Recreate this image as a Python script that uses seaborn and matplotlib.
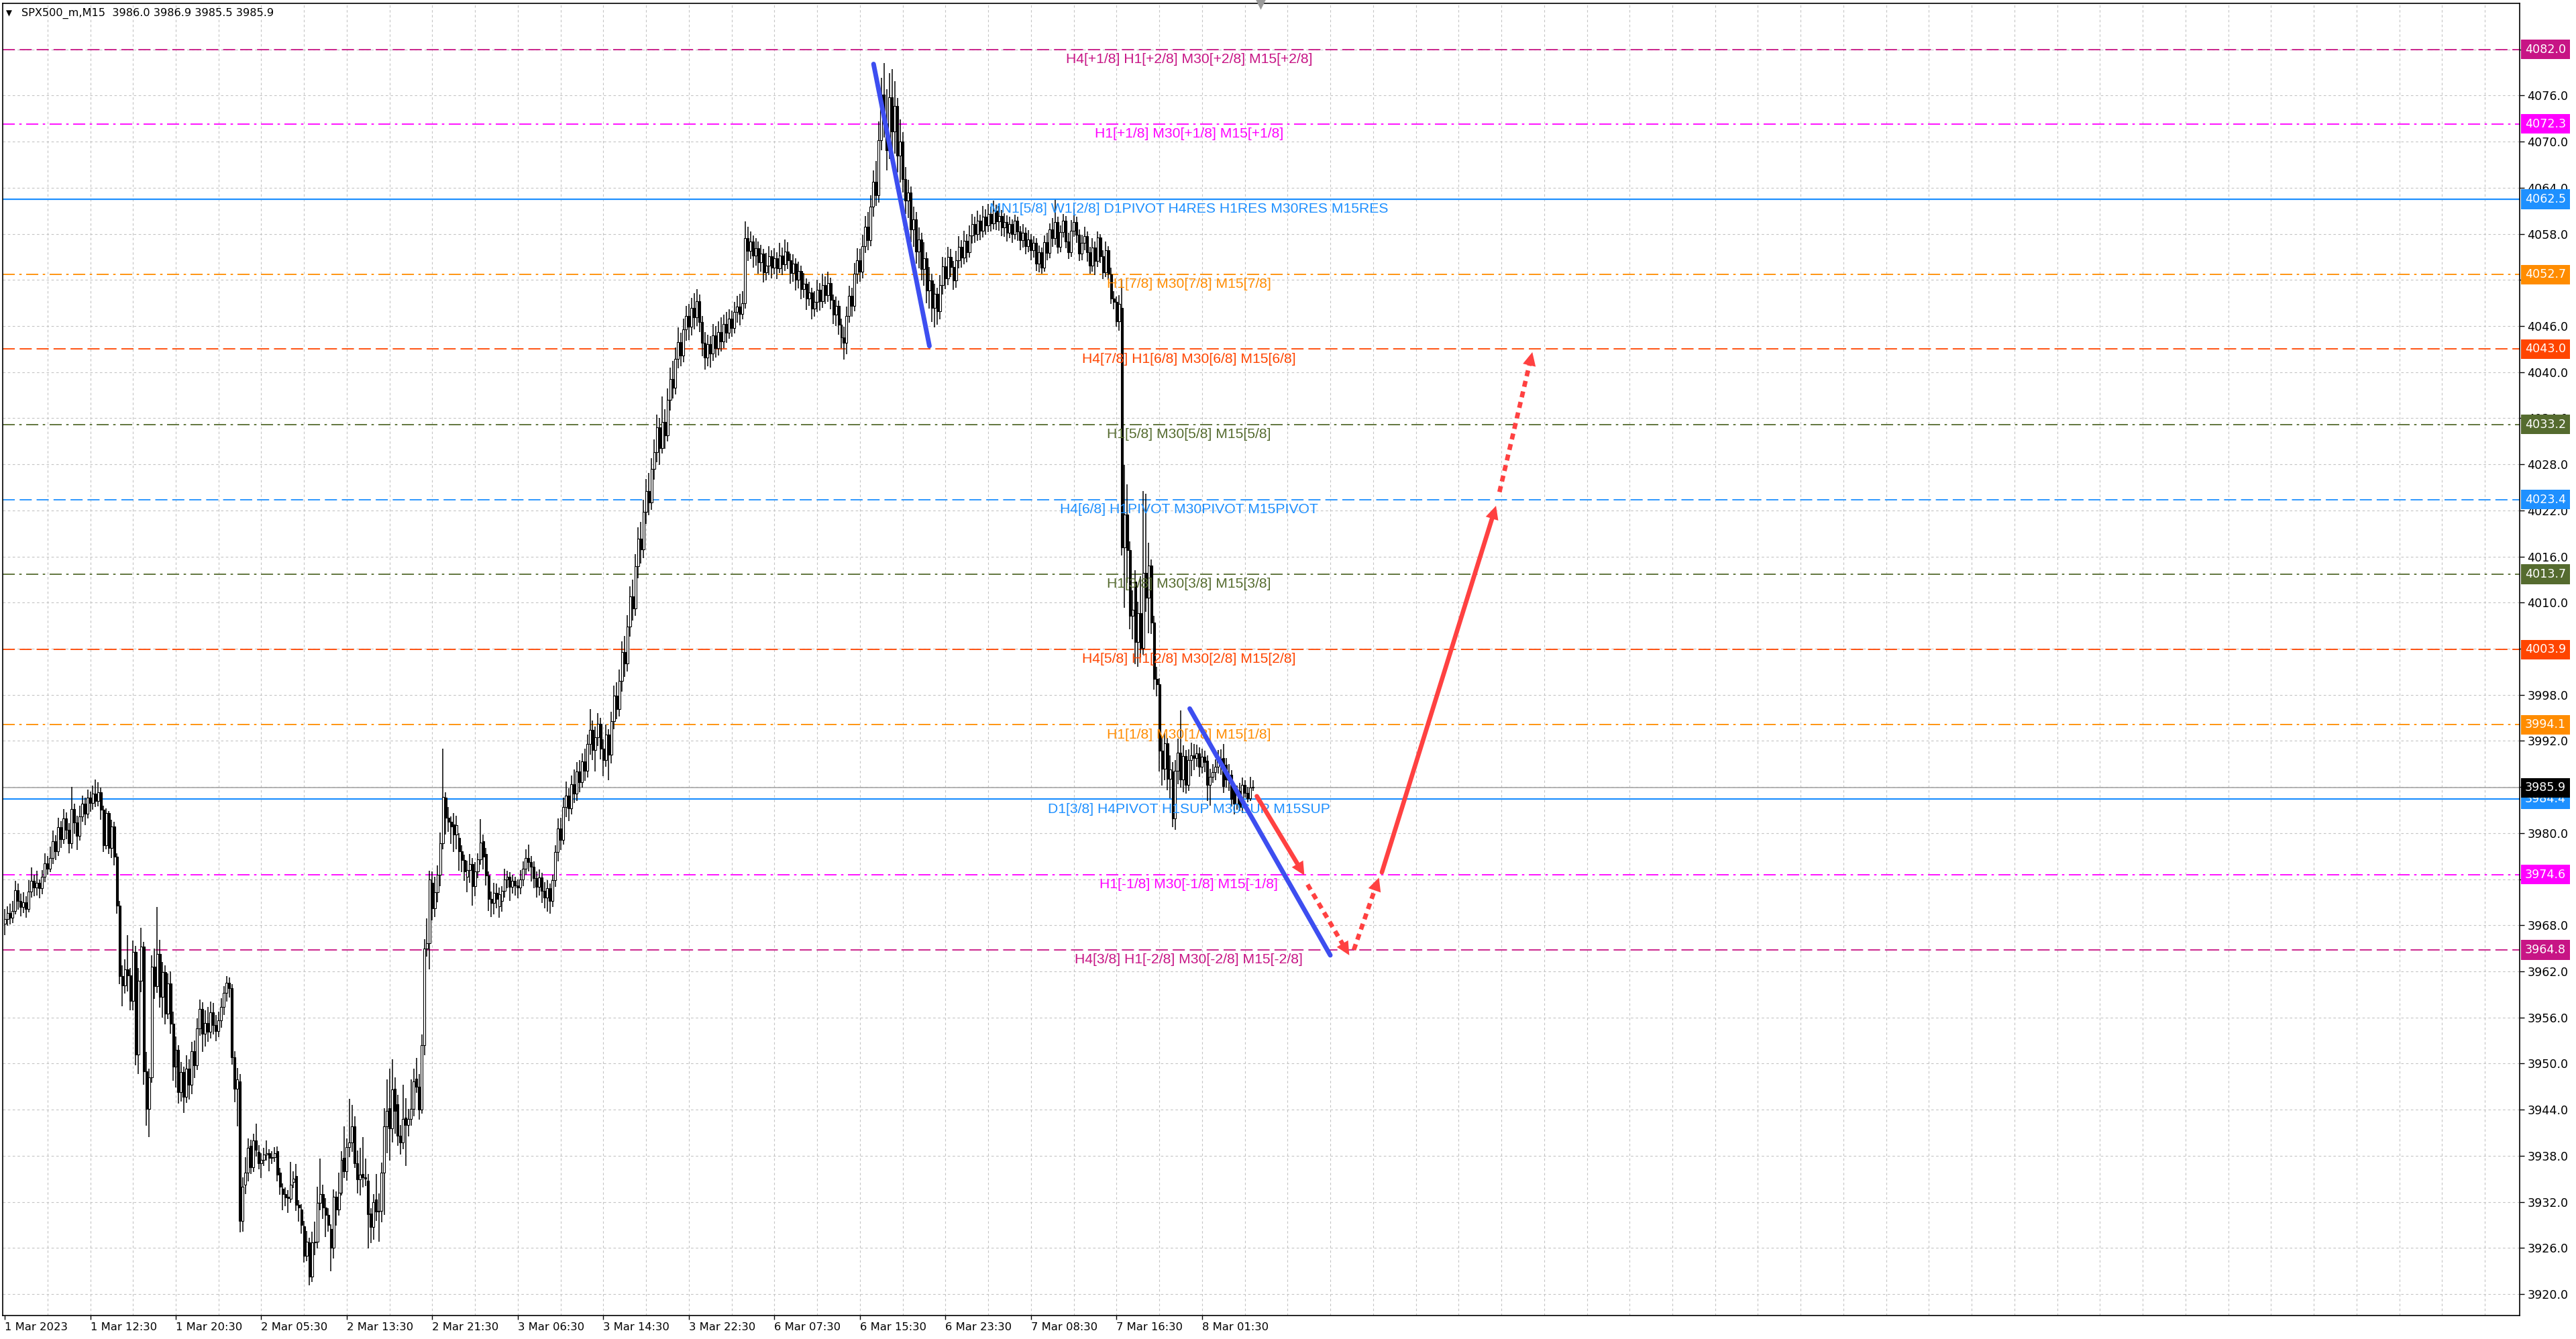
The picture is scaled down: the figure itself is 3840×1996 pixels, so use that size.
import numpy as np
import matplotlib
matplotlib.use("Agg")
import matplotlib.pyplot as plt
import matplotlib.transforms as mtransforms
import seaborn as sns

# SPX500_m M15 candles, 1 Mar 2023 -> 8 Mar 2023
opens = [
    3968.2, 3968.8, 3969.6, 3969.0, 3969.9, 3972.6, 3971.2, 3970.4, 3971.0, 3970.1, 3972.4, 3973.8, 3972.9, 3973.5, 3972.8, 3974.3,
    3976.1, 3975.4, 3976.8, 3978.9, 3977.6, 3980.8, 3979.2, 3981.9, 3980.4, 3978.7, 3983.1, 3981.4, 3979.6, 3982.2, 3983.8, 3982.5,
    3984.6, 3983.9, 3985.1, 3984.2, 3985.3, 3983.0, 3978.4, 3982.6, 3978.1, 3980.9, 3976.9, 3970.6, 3961.4, 3960.2, 3962.3, 3961.5,
    3958.2, 3964.5, 3951.2, 3960.8, 3965.2, 3949.0, 3944.1, 3948.2, 3962.6, 3960.1, 3964.3, 3958.7, 3961.9, 3956.5, 3960.4, 3955.2,
    3949.6, 3951.8, 3946.3, 3948.9, 3945.7, 3949.3, 3947.2, 3951.6, 3949.8, 3954.6, 3957.1, 3953.9, 3955.3, 3954.1, 3956.7, 3955.0,
    3954.2, 3955.6, 3957.4, 3959.2, 3960.5, 3959.8, 3950.8, 3946.7, 3947.7, 3929.5, 3934.2, 3935.8, 3939.3, 3936.5, 3940.0, 3938.5,
    3937.0, 3937.5, 3938.2, 3938.3, 3937.7, 3937.8, 3938.6, 3935.8, 3933.7, 3933.0, 3932.6, 3932.4, 3934.6, 3935.4, 3931.6, 3931.0,
    3928.8, 3925.0, 3926.7, 3922.3, 3926.7, 3926.8, 3931.9, 3933.0, 3931.3, 3930.3, 3928.5, 3926.0, 3932.7, 3931.0, 3933.2, 3937.7,
    3936.0, 3939.1, 3939.7, 3941.8, 3937.0, 3934.9, 3935.6, 3935.2, 3934.8, 3930.5, 3928.7, 3932.3, 3930.7, 3930.8, 3935.8, 3941.8,
    3944.2, 3941.6, 3946.7, 3944.7, 3940.6, 3939.7, 3943.0, 3942.0, 3942.8, 3944.1, 3948.0, 3947.0, 3944.0, 3952.4, 3965.0, 3965.7,
    3973.5, 3970.2, 3972.3, 3974.6, 3978.7, 3984.6, 3982.0, 3981.5, 3981.1, 3979.8, 3979.4, 3977.6, 3976.5, 3974.3, 3975.2, 3976.0,
    3973.1, 3975.0, 3976.6, 3978.9, 3977.3, 3974.5, 3971.4, 3970.9, 3972.2, 3970.5, 3971.2, 3972.5, 3974.0, 3974.3, 3973.0, 3973.8,
    3973.2, 3972.9, 3974.0, 3975.4, 3976.8, 3976.2, 3975.6, 3974.1, 3973.0, 3974.2, 3972.5, 3971.6, 3972.8, 3971.2, 3973.9, 3977.5,
    3980.6, 3979.1, 3983.4, 3984.9, 3983.2, 3986.4, 3985.1, 3988.0, 3986.6, 3989.3, 3988.1, 3991.6, 3993.4, 3990.8, 3992.5, 3994.2,
    3991.0, 3989.5, 3992.8, 3990.2, 3994.6, 3997.9, 3996.1, 3999.8, 4003.6, 4002.1, 4006.9, 4010.8, 4009.2, 4014.7, 4018.3, 4016.9,
    4021.8, 4024.5, 4023.0, 4027.4, 4029.6, 4032.8, 4030.1, 4033.5, 4031.8, 4036.4, 4039.1, 4038.0, 4041.7, 4043.9, 4042.2, 4045.6,
    4047.3, 4045.9, 4048.4, 4047.1, 4049.2, 4046.5, 4043.8, 4041.9, 4043.6, 4042.4, 4044.8, 4043.1, 4045.2, 4044.0, 4046.3, 4045.1,
    4047.0, 4045.7, 4047.8, 4048.5, 4047.6, 4049.0, 4057.4, 4055.8, 4057.0, 4055.2, 4056.1, 4054.3, 4055.4, 4053.0, 4053.9, 4055.1,
    4053.6, 4054.8, 4053.5, 4055.2, 4054.0, 4055.7, 4054.6, 4052.9, 4054.1, 4052.0, 4053.2, 4050.8, 4051.5, 4049.6, 4050.4, 4048.3,
    4049.1, 4050.7, 4049.2, 4051.3, 4050.0, 4051.6, 4049.4, 4047.5, 4048.6, 4046.2, 4044.5, 4043.8, 4047.3, 4049.9, 4048.6, 4052.8,
    4054.6, 4053.1, 4056.4, 4058.9, 4057.2, 4061.5, 4064.8, 4063.0, 4070.2, 4076.1, 4072.4, 4068.9, 4075.8, 4071.3, 4074.6, 4068.2,
    4070.0, 4065.1, 4062.3, 4063.4, 4058.6, 4059.9, 4055.7, 4057.3, 4053.4, 4054.8, 4050.6, 4051.9, 4048.4, 4050.2, 4047.9, 4051.3,
    4053.8, 4052.2, 4055.0, 4053.7, 4051.9, 4054.6, 4056.3, 4054.9, 4057.1, 4055.6, 4057.8, 4059.3, 4058.0, 4059.7, 4058.4, 4060.2,
    4059.1, 4060.6, 4059.4, 4061.0, 4059.6, 4060.3, 4058.8, 4059.5, 4058.1, 4059.3, 4058.0, 4059.7, 4058.3, 4057.2, 4058.1, 4056.4,
    4057.3, 4055.9, 4056.8, 4054.1, 4055.6, 4053.6, 4056.9, 4055.5, 4058.6, 4057.4, 4059.5, 4056.3, 4058.2, 4059.7, 4057.0, 4055.6,
    4058.4, 4059.5, 4057.9, 4055.4, 4056.8, 4057.7, 4055.6, 4053.9, 4056.2, 4054.5, 4057.5, 4055.1, 4053.0, 4055.9, 4052.7, 4049.6,
    4049.1, 4046.6, 4048.4, 4017.2, 4021.5, 4016.8, 4008.3, 4012.7, 4004.9, 4008.6, 4004.1, 4013.9, 4010.6, 4014.8, 4007.4, 4000.1,
    3999.4, 3990.7, 3988.4, 3991.7, 3987.1, 3988.0, 3981.9, 3988.1, 3990.5, 3987.0, 3990.0, 3986.3, 3989.5, 3990.1, 3989.8, 3990.4,
    3988.6, 3989.9, 3989.4, 3986.3, 3987.3, 3987.9, 3988.6, 3989.7, 3989.8, 3988.9, 3987.0, 3987.6, 3985.7, 3983.8, 3985.5, 3983.4,
    3986.3, 3985.2, 3984.5, 3986.0,
]
highs = [
    3970.1, 3970.5, 3970.8, 3971.2, 3973.8, 3973.4, 3972.1, 3972.3, 3971.8, 3973.9, 3975.5, 3974.6, 3975.1, 3974.0, 3975.2, 3977.4,
    3977.0, 3978.2, 3980.3, 3979.7, 3982.0, 3981.6, 3983.1, 3982.7, 3981.3, 3986.0, 3983.8, 3982.3, 3983.6, 3984.9, 3984.6, 3985.7,
    3985.4, 3986.2, 3987.0, 3986.6, 3985.9, 3983.6, 3983.2, 3982.9, 3981.7, 3981.5, 3977.4, 3971.2, 3962.8, 3963.6, 3966.7, 3962.4,
    3966.0, 3965.3, 3962.4, 3967.7, 3965.8, 3951.5, 3949.3, 3964.1, 3965.0, 3970.4, 3966.1, 3963.2, 3962.8, 3961.7, 3962.0, 3956.8,
    3953.5, 3952.4, 3950.2, 3949.6, 3951.1, 3950.6, 3952.8, 3953.0, 3955.9, 3958.3, 3958.0, 3956.9, 3957.4, 3958.1, 3957.9, 3956.3,
    3956.8, 3958.5, 3960.1, 3961.4, 3961.2, 3960.3, 3951.6, 3949.4, 3948.6, 3935.2, 3937.8, 3940.3, 3940.1, 3940.9, 3942.2, 3939.4,
    3938.3, 3939.0, 3940.0, 3938.9, 3938.6, 3939.1, 3939.2, 3936.4, 3934.4, 3933.9, 3933.5, 3937.2, 3936.0, 3936.9, 3932.2, 3931.7,
    3929.5, 3928.2, 3927.3, 3928.1, 3929.4, 3934.0, 3937.6, 3934.2, 3932.5, 3931.2, 3929.1, 3933.6, 3933.4, 3935.8, 3938.6, 3941.8,
    3940.3, 3945.4, 3944.6, 3943.1, 3938.7, 3939.0, 3940.4, 3937.6, 3935.6, 3931.2, 3933.0, 3935.6, 3933.1, 3937.1, 3944.2, 3947.9,
    3949.3, 3950.6, 3948.2, 3945.9, 3942.0, 3947.2, 3945.5, 3944.1, 3947.9, 3949.3, 3950.7, 3948.6, 3953.8, 3966.2, 3968.9, 3975.1,
    3975.0, 3974.3, 3975.8, 3980.1, 3991.0, 3985.3, 3983.4, 3982.2, 3982.6, 3982.3, 3980.0, 3978.4, 3977.2, 3976.4, 3977.3, 3976.8,
    3976.2, 3977.4, 3981.8, 3979.8, 3978.1, 3975.0, 3972.4, 3973.5, 3973.4, 3972.9, 3973.1, 3975.4, 3975.1, 3974.9, 3974.6, 3974.3,
    3974.0, 3975.2, 3976.3, 3977.9, 3978.5, 3977.0, 3976.3, 3975.0, 3975.3, 3974.8, 3973.6, 3973.9, 3973.4, 3974.6, 3978.4, 3981.9,
    3982.0, 3984.6, 3986.7, 3985.8, 3987.5, 3988.3, 3989.2, 3989.5, 3990.4, 3991.0, 3992.8, 3996.1, 3994.7, 3993.9, 3995.6, 3995.0,
    3992.2, 3994.1, 3993.5, 3995.8, 3999.2, 3999.6, 4001.3, 4005.0, 4005.7, 4008.4, 4012.1, 4013.0, 4016.3, 4019.8, 4020.5, 4023.4,
    4026.1, 4026.9, 4028.8, 4031.2, 4034.5, 4034.0, 4036.8, 4035.2, 4037.9, 4040.6, 4041.5, 4043.2, 4045.8, 4045.1, 4047.0, 4048.6,
    4048.9, 4049.7, 4050.3, 4050.8, 4050.1, 4047.3, 4045.2, 4044.9, 4044.7, 4046.3, 4046.0, 4046.6, 4047.1, 4047.5, 4047.8, 4048.2,
    4048.0, 4049.1, 4049.9, 4050.2, 4050.5, 4059.6, 4058.9, 4058.3, 4057.8, 4057.4, 4057.0, 4056.6, 4056.0, 4055.5, 4056.4, 4055.9,
    4056.1, 4055.6, 4056.8, 4056.2, 4057.3, 4056.9, 4055.4, 4055.3, 4054.8, 4054.4, 4053.9, 4052.9, 4052.2, 4051.8, 4051.0, 4050.5,
    4052.0, 4051.6, 4052.8, 4052.5, 4053.1, 4052.3, 4050.1, 4049.8, 4049.3, 4047.0, 4045.9, 4048.5, 4051.2, 4051.0, 4054.2, 4056.1,
    4056.0, 4057.9, 4060.3, 4060.8, 4063.0, 4066.3, 4067.5, 4072.6, 4078.3, 4080.2, 4076.8, 4078.9, 4079.4, 4077.9, 4075.7, 4072.9,
    4071.2, 4066.7, 4065.0, 4064.2, 4061.5, 4060.8, 4058.8, 4058.1, 4056.9, 4055.6, 4053.7, 4052.8, 4051.5, 4051.0, 4052.6, 4055.0,
    4054.9, 4056.3, 4056.0, 4054.5, 4055.8, 4057.7, 4057.2, 4058.4, 4058.0, 4059.1, 4060.6, 4060.2, 4061.0, 4060.5, 4061.6, 4061.2,
    4061.9, 4061.5, 4062.3, 4061.8, 4061.6, 4061.1, 4060.7, 4060.4, 4060.2, 4059.9, 4060.5, 4060.2, 4059.0, 4059.3, 4058.8, 4058.5,
    4058.0, 4057.7, 4057.4, 4056.5, 4056.2, 4057.8, 4058.1, 4059.4, 4060.1, 4062.4, 4060.2, 4059.1, 4060.6, 4060.3, 4058.1, 4059.8,
    4061.3, 4060.2, 4058.6, 4057.9, 4058.9, 4058.3, 4056.3, 4057.4, 4057.0, 4058.3, 4058.0, 4055.9, 4057.0, 4056.4, 4053.6, 4050.5,
    4049.8, 4050.0, 4052.0, 4027.9, 4025.4, 4018.0, 4011.6, 4014.2, 4010.1, 4013.4, 4024.5, 4024.2, 4017.8, 4015.6, 4008.3, 4001.6,
    4000.2, 3992.5, 3993.0, 3992.4, 3990.1, 3989.2, 3989.5, 3992.3, 3996.0, 3991.4, 3990.8, 3990.9, 3991.8, 3991.6, 3991.5, 3991.2,
    3991.0, 3990.7, 3990.1, 3988.4, 3989.0, 3989.6, 3990.8, 3990.9, 3991.6, 3989.8, 3989.0, 3988.2, 3986.4, 3986.2, 3986.5, 3987.2,
    3986.9, 3986.0, 3987.3, 3986.9,
]
lows = [
    3966.7, 3967.9, 3968.1, 3968.3, 3969.4, 3970.0, 3969.2, 3969.6, 3969.0, 3969.7, 3971.6, 3971.8, 3971.9, 3971.5, 3972.0, 3973.6,
    3974.6, 3974.9, 3976.0, 3976.5, 3977.0, 3978.1, 3978.6, 3979.2, 3977.4, 3978.0, 3979.9, 3977.8, 3979.0, 3981.5, 3981.0, 3981.9,
    3982.8, 3983.0, 3983.4, 3983.5, 3981.7, 3977.5, 3977.9, 3977.3, 3976.8, 3975.8, 3969.5, 3960.3, 3957.5, 3959.1, 3959.4, 3956.9,
    3956.9, 3949.8, 3948.6, 3959.3, 3947.2, 3941.9, 3940.4, 3947.5, 3958.4, 3959.2, 3957.3, 3956.0, 3955.1, 3955.8, 3953.9, 3947.8,
    3946.9, 3944.8, 3945.1, 3943.6, 3944.9, 3945.3, 3946.0, 3948.1, 3949.2, 3953.6, 3951.5, 3952.2, 3952.8, 3953.3, 3953.8, 3952.9,
    3953.4, 3954.7, 3956.3, 3958.1, 3958.6, 3949.9, 3945.0, 3941.8, 3928.0, 3928.1, 3933.0, 3934.7, 3935.6, 3935.9, 3937.9, 3936.2,
    3935.1, 3936.7, 3937.4, 3936.0, 3936.9, 3937.2, 3934.7, 3932.9, 3930.9, 3931.4, 3930.6, 3931.9, 3933.8, 3930.8, 3929.4, 3927.9,
    3924.1, 3924.3, 3921.1, 3921.6, 3925.1, 3925.9, 3930.9, 3929.8, 3927.4, 3928.1, 3923.0, 3924.6, 3928.9, 3930.2, 3932.8, 3935.1,
    3934.8, 3937.8, 3938.5, 3936.4, 3933.1, 3932.8, 3933.9, 3934.1, 3925.9, 3926.6, 3927.1, 3929.5, 3926.8, 3929.3, 3930.3, 3938.3,
    3937.4, 3939.7, 3940.9, 3939.3, 3938.2, 3938.9, 3936.7, 3940.5, 3941.9, 3943.1, 3946.2, 3942.7, 3943.5, 3951.1, 3963.9, 3962.3,
    3968.6, 3969.1, 3971.0, 3973.1, 3977.9, 3979.8, 3980.2, 3978.6, 3977.5, 3977.9, 3975.1, 3974.9, 3973.8, 3972.3, 3973.5, 3970.6,
    3971.8, 3974.1, 3975.9, 3975.3, 3973.2, 3969.9, 3969.1, 3969.4, 3970.2, 3969.0, 3969.8, 3971.6, 3972.8, 3971.2, 3972.1, 3971.9,
    3971.5, 3972.0, 3973.1, 3974.6, 3975.0, 3973.7, 3972.8, 3971.6, 3971.9, 3970.9, 3970.2, 3969.8, 3969.5, 3970.4, 3973.0, 3976.3,
    3977.8, 3978.5, 3982.1, 3981.6, 3982.4, 3983.9, 3984.2, 3985.3, 3985.9, 3986.8, 3987.2, 3990.2, 3989.5, 3988.0, 3991.3, 3989.6,
    3987.4, 3988.6, 3986.9, 3989.1, 3993.5, 3994.8, 3995.2, 3998.4, 4000.3, 4001.0, 4005.6, 4007.7, 4008.3, 4013.2, 4015.1, 4015.8,
    4020.2, 4021.4, 4022.1, 4026.0, 4028.3, 4027.9, 4029.4, 4030.0, 4031.0, 4035.0, 4036.6, 4037.1, 4040.5, 4040.8, 4041.3, 4044.1,
    4044.2, 4044.8, 4045.6, 4046.0, 4045.2, 4042.1, 4040.3, 4040.8, 4040.6, 4041.5, 4041.9, 4042.2, 4042.7, 4043.1, 4043.8, 4044.3,
    4044.6, 4045.0, 4046.4, 4046.1, 4046.9, 4048.3, 4054.5, 4054.7, 4053.6, 4053.9, 4052.8, 4053.1, 4051.7, 4051.9, 4052.6, 4052.2,
    4052.7, 4052.1, 4052.9, 4052.6, 4053.2, 4053.4, 4051.5, 4051.8, 4050.6, 4050.9, 4049.5, 4049.7, 4048.1, 4048.6, 4046.9, 4047.2,
    4047.8, 4048.0, 4048.4, 4048.9, 4049.1, 4048.2, 4046.3, 4046.0, 4044.9, 4043.1, 4041.6, 4042.3, 4046.4, 4047.2, 4047.9, 4051.5,
    4051.8, 4052.2, 4055.5, 4055.9, 4056.4, 4060.2, 4061.6, 4062.1, 4068.9, 4070.5, 4066.3, 4067.7, 4069.0, 4068.4, 4066.0, 4064.7,
    4063.4, 4060.6, 4060.1, 4056.9, 4056.3, 4054.1, 4053.5, 4051.9, 4051.2, 4049.0, 4048.3, 4046.5, 4045.8, 4046.2, 4046.9, 4050.1,
    4050.8, 4051.3, 4052.4, 4050.7, 4051.0, 4053.5, 4053.6, 4054.0, 4054.3, 4054.9, 4056.7, 4056.8, 4057.1, 4057.2, 4057.5, 4057.9,
    4058.2, 4058.3, 4058.6, 4058.5, 4058.4, 4057.7, 4057.6, 4057.0, 4057.4, 4056.8, 4057.3, 4057.1, 4055.9, 4056.2, 4055.3, 4055.6,
    4054.6, 4054.9, 4053.2, 4053.0, 4052.8, 4053.1, 4054.6, 4054.8, 4056.3, 4056.6, 4055.4, 4055.6, 4057.5, 4056.1, 4054.7, 4055.0,
    4057.6, 4056.8, 4054.5, 4054.6, 4055.9, 4054.4, 4052.8, 4053.1, 4052.6, 4053.7, 4054.2, 4052.1, 4052.4, 4052.0, 4048.9, 4048.2,
    4045.9, 4045.4, 4016.1, 4009.3, 4012.6, 4006.5, 4005.2, 4002.0, 4001.6, 4002.9, 4003.2, 4008.8, 4006.0, 4005.9, 3998.7, 3997.8,
    3988.0, 3986.2, 3986.9, 3985.6, 3984.5, 3980.8, 3980.4, 3986.4, 3985.9, 3985.3, 3985.1, 3985.5, 3987.4, 3988.2, 3988.6, 3987.3,
    3987.8, 3987.9, 3984.2, 3983.6, 3986.5, 3986.9, 3987.8, 3987.6, 3985.2, 3985.9, 3985.5, 3983.5, 3982.4, 3983.0, 3982.9, 3982.6,
    3984.6, 3984.0, 3984.2, 3985.5,
]
closes = [
    3968.8, 3969.6, 3969.0, 3969.9, 3972.6, 3971.2, 3970.4, 3971.0, 3970.1, 3972.4, 3973.8, 3972.9, 3973.5, 3972.8, 3974.3, 3976.1,
    3975.4, 3976.8, 3978.9, 3977.6, 3980.8, 3979.2, 3981.9, 3980.4, 3978.7, 3983.1, 3981.4, 3979.6, 3982.2, 3983.8, 3982.5, 3984.6,
    3983.9, 3985.1, 3984.2, 3985.3, 3983.0, 3978.4, 3982.6, 3978.1, 3980.9, 3976.9, 3970.6, 3961.4, 3960.2, 3962.3, 3961.5, 3958.2,
    3964.5, 3951.2, 3960.8, 3965.2, 3949.0, 3944.1, 3948.2, 3962.6, 3960.1, 3964.3, 3958.7, 3961.9, 3956.5, 3960.4, 3955.2, 3949.6,
    3951.8, 3946.3, 3948.9, 3945.7, 3949.3, 3947.2, 3951.6, 3949.8, 3954.6, 3957.1, 3953.9, 3955.3, 3954.1, 3956.7, 3955.0, 3954.2,
    3955.6, 3957.4, 3959.2, 3960.5, 3959.8, 3950.8, 3946.7, 3947.9, 3929.5, 3934.0, 3935.8, 3939.0, 3936.5, 3940.0, 3938.8, 3937.0,
    3937.5, 3938.2, 3938.3, 3937.7, 3937.8, 3938.3, 3935.5, 3934.0, 3933.0, 3932.6, 3932.5, 3934.2, 3935.0, 3931.6, 3931.3, 3929.0,
    3925.0, 3926.8, 3922.3, 3926.7, 3926.8, 3931.9, 3933.0, 3931.3, 3930.3, 3929.0, 3926.0, 3932.7, 3931.0, 3933.2, 3937.5, 3936.0,
    3939.1, 3939.7, 3941.8, 3937.0, 3934.9, 3935.5, 3935.2, 3935.0, 3930.4, 3928.7, 3932.0, 3930.7, 3930.8, 3935.8, 3941.8, 3943.8,
    3941.6, 3946.6, 3943.8, 3940.6, 3939.7, 3942.8, 3942.0, 3942.8, 3944.1, 3947.7, 3947.0, 3944.0, 3952.4, 3965.0, 3965.7, 3974.0,
    3970.2, 3972.3, 3974.6, 3978.7, 3984.7, 3982.0, 3981.5, 3980.9, 3979.8, 3981.0, 3977.6, 3976.5, 3975.0, 3975.2, 3976.0, 3973.1,
    3975.0, 3976.6, 3978.8, 3976.9, 3974.5, 3971.4, 3970.9, 3972.2, 3971.4, 3972.0, 3972.5, 3974.0, 3974.3, 3973.0, 3973.8, 3973.2,
    3972.9, 3974.0, 3975.4, 3976.8, 3976.2, 3975.6, 3974.1, 3973.0, 3974.2, 3972.5, 3971.6, 3972.8, 3971.2, 3973.9, 3977.5, 3980.6,
    3979.1, 3983.4, 3984.9, 3983.2, 3986.4, 3985.1, 3988.0, 3986.6, 3989.3, 3988.1, 3991.6, 3993.4, 3990.8, 3992.5, 3994.2, 3991.0,
    3989.5, 3992.8, 3990.2, 3994.6, 3997.9, 3996.1, 3999.8, 4003.6, 4002.1, 4006.9, 4010.8, 4009.2, 4014.7, 4018.3, 4016.9, 4021.8,
    4024.5, 4023.0, 4027.4, 4029.6, 4032.8, 4030.1, 4033.5, 4031.8, 4036.4, 4039.1, 4038.0, 4041.7, 4043.9, 4042.2, 4045.6, 4047.3,
    4045.9, 4048.4, 4047.1, 4049.2, 4046.5, 4043.8, 4041.9, 4043.6, 4042.4, 4044.8, 4043.1, 4045.2, 4044.0, 4046.3, 4045.1, 4047.0,
    4045.7, 4047.8, 4048.5, 4047.6, 4049.0, 4057.4, 4055.8, 4057.0, 4055.2, 4056.1, 4054.3, 4055.4, 4053.0, 4053.9, 4055.1, 4053.6,
    4054.8, 4053.5, 4055.2, 4054.0, 4055.7, 4054.6, 4052.9, 4054.1, 4052.0, 4053.2, 4050.8, 4051.5, 4049.6, 4050.4, 4048.3, 4049.1,
    4050.7, 4049.2, 4051.3, 4050.0, 4051.6, 4049.4, 4047.5, 4048.6, 4046.2, 4044.5, 4043.8, 4047.3, 4049.9, 4048.6, 4052.8, 4054.6,
    4053.1, 4056.4, 4058.9, 4057.2, 4061.5, 4064.8, 4063.0, 4070.2, 4076.1, 4072.4, 4068.9, 4075.8, 4071.3, 4074.6, 4068.2, 4070.0,
    4065.1, 4062.3, 4063.4, 4058.6, 4059.9, 4055.7, 4057.3, 4053.4, 4054.8, 4050.6, 4051.9, 4048.4, 4050.2, 4047.9, 4051.3, 4053.8,
    4052.2, 4055.0, 4053.7, 4051.9, 4054.6, 4056.3, 4054.9, 4057.1, 4055.6, 4057.8, 4059.3, 4058.0, 4059.7, 4058.4, 4060.2, 4059.1,
    4060.6, 4059.4, 4061.0, 4059.6, 4060.3, 4058.8, 4059.5, 4058.1, 4059.3, 4058.0, 4059.7, 4058.3, 4057.2, 4058.1, 4056.4, 4057.3,
    4055.9, 4056.8, 4054.1, 4055.6, 4053.6, 4056.9, 4055.5, 4058.6, 4057.4, 4059.5, 4056.3, 4058.2, 4059.7, 4057.0, 4055.6, 4058.4,
    4059.5, 4057.9, 4055.4, 4056.8, 4057.7, 4055.6, 4053.9, 4056.2, 4054.5, 4057.5, 4055.1, 4053.0, 4055.9, 4052.8, 4049.6, 4049.1,
    4046.6, 4048.9, 4017.2, 4021.5, 4016.8, 4008.3, 4009.1, 4004.9, 4008.6, 4004.1, 4013.9, 4010.6, 4014.8, 4007.4, 4000.1, 3999.4,
    3990.7, 3988.4, 3991.7, 3987.1, 3988.3, 3981.9, 3988.1, 3990.5, 3987.0, 3990.0, 3986.3, 3989.5, 3990.1, 3989.8, 3990.4, 3988.6,
    3989.9, 3989.2, 3986.3, 3987.3, 3987.9, 3988.6, 3989.7, 3989.0, 3986.1, 3987.0, 3986.9, 3984.4, 3983.8, 3985.5, 3983.4, 3986.3,
    3985.2, 3984.5, 3985.9, 3985.9,
]

time_labels = ["1 Mar 2023", "1 Mar 12:30", "1 Mar 20:30", "2 Mar 05:30", "2 Mar 13:30", "2 Mar 21:30",
               "3 Mar 06:30", "3 Mar 14:30", "3 Mar 22:30", "6 Mar 07:30", "6 Mar 15:30", "6 Mar 23:30",
               "7 Mar 08:30", "7 Mar 16:30", "8 Mar 01:30"]

# price scale labels hidden behind the level boxes in the terminal
hidden_ticks = [4082, 4052, 4004, 3986, 3974]

# murrey math levels
level_prices = [4082.0, 4072.3, 4062.5, 4052.7, 4043.0, 4033.2, 4023.4, 4013.7, 4003.9, 3994.1, 3984.4, 3974.6, 3964.8]
level_names = [
    "H4[+1/8] H1[+2/8] M30[+2/8] M15[+2/8]",
    "H1[+1/8] M30[+1/8] M15[+1/8]",
    "MN1[5/8] W1[2/8] D1PIVOT H4RES H1RES M30RES M15RES",
    "H1[7/8] M30[7/8] M15[7/8]",
    "H4[7/8] H1[6/8] M30[6/8] M15[6/8]",
    "H1[5/8] M30[5/8] M15[5/8]",
    "H4[6/8] H1PIVOT M30PIVOT M15PIVOT",
    "H1[3/8] M30[3/8] M15[3/8]",
    "H4[5/8] H1[2/8] M30[2/8] M15[2/8]",
    "H1[1/8] M30[1/8] M15[1/8]",
    "D1[3/8] H4PIVOT H1SUP M30SUP M15SUP",
    "H1[-1/8] M30[-1/8] M15[-1/8]",
    "H4[3/8] H1[-2/8] M30[-2/8] M15[-2/8]",
]
level_colors = ["#C71585", "#FF00FF", "#1E90FF", "#FF8C00", "#FF4500", "#556B2F", "#1E90FF",
                "#556B2F", "#FF4500", "#FF8C00", "#1E90FF", "#FF00FF", "#C71585"]
level_styles = ["dash", "dashdot", "solid", "dashdot", "dash", "dashdot", "dash",
                "dashdot", "dash", "dashdot", "solid", "dashdot", "dash"]
last_price = 3985.9
title_text = "SPX500_m,M15  3986.0 3986.9 3985.5 3985.9"

# hand drawn trend lines (bar index, price)
trend_x = [[325.1, 346.0], [443.4, 496.0]]
trend_y = [[4080.1, 4043.4], [3996.2, 3964.1]]

# forecast arrows
arrow_x0 = [468.5, 487.5, 504.8, 515.3, 559.3]
arrow_y0 = [3984.8, 3973.3, 3964.8, 3974.9, 4024.4]
arrow_x1 = [486.3, 503.1, 514.2, 558.0, 571.6]
arrow_y1 = [3974.5, 3964.1, 3974.2, 4022.6, 4042.6]
arrow_dotted = [False, True, True, False, True]

sns.set_theme(style="white")
plt.rcParams['font.family'] = ['DejaVu Sans']
plt.rcParams['lines.scale_dashes'] = False

n = min(len(opens), len(highs), len(lows), len(closes))
o = np.array(opens[:n]); h = np.array(highs[:n]); l = np.array(lows[:n]); c = np.array(closes[:n])
idx = np.arange(n)

fig = plt.figure(figsize=(19.2, 9.98), dpi=200)
ax = fig.add_axes([0.001, 0.0175, 0.9771, 0.98])
ax.set_facecolor("white")
ax.set_xlim(-0.8, 941)
ax.set_ylim(3917.2, 4088.0)

grid_kw = dict(color="#c4c4c4", lw=0.4, ls=(0, (1.3, 1.3)), zorder=0)
for gx in range(16, 941, 16):
    ax.axvline(gx, **grid_kw)
yticks = np.arange(3920, 4083, 6)
for gy in yticks:
    ax.axhline(gy, **grid_kw)

dash_map = {"dash": (0, (6.5, 2.6)), "dashdot": (0, (6.5, 2.4, 1.3, 2.4)), "solid": "-"}
for p, name, col, st in zip(level_prices, level_names, level_colors, level_styles):
    ax.axhline(p, color=col, lw=0.8 if st == "solid" else 0.65, ls=dash_map[st], zorder=1)
    ax.text(443.1, p - 0.45, name, color=col, ha="center", va="top", fontsize=7.6,
            family=["Liberation Sans", "DejaVu Sans"], zorder=4)
ax.axhline(last_price, color="#a8a8a8", lw=0.6, zorder=1)

# candles
ax.vlines(idx, l, h, color="black", lw=0.55, zorder=2)
up = c >= o
bottom = np.minimum(o, c)
height = np.maximum(np.abs(c - o), 0.12)
ax.bar(idx[up], height[up], bottom=bottom[up], width=0.75, color="white", edgecolor="black", linewidth=0.4, zorder=3)
ax.bar(idx[~up], height[~up], bottom=bottom[~up], width=0.75, color="black", edgecolor="black", linewidth=0.4, zorder=3)

# blue trend lines
for tx, ty in zip(trend_x, trend_y):
    sns.lineplot(x=tx, y=ty, ax=ax, color="#3D4EF0", lw=2.5, sort=False, legend=False, zorder=6,
                 solid_capstyle="round")

red = "#FF4141"
head_px = 12
for x0, y0, x1, y1, dotted in zip(arrow_x0, arrow_y0, arrow_x1, arrow_y1, arrow_dotted):
    p0 = ax.transData.transform((x0, y0))
    p1 = ax.transData.transform((x1, y1))
    d = p1 - p0
    q = p1 - d / np.hypot(*d) * head_px
    xe, ye = ax.transData.inverted().transform(q)
    if dotted:
        ax.plot([x0, xe], [y0, ye], color=red, lw=2.4, ls=(0, (3.2, 2.6)), dash_capstyle="butt", zorder=6)
    else:
        ax.plot([x0, xe], [y0, ye], color=red, lw=2.4, solid_capstyle="round", zorder=6)
    ax.annotate("", xy=(x1, y1), xytext=(x0, y0),
                arrowprops=dict(arrowstyle="-|>,head_length=0.45,head_width=0.22", color=red, lw=0,
                                shrinkA=0, shrinkB=0, mutation_scale=16), zorder=7)

# axes and ticks
for s in ax.spines.values():
    s.set_color("black")
    s.set_linewidth(0.6)
ax.yaxis.tick_right()
ax.set_yticks(yticks)
ax.set_yticklabels(["" if int(v) in hidden_ticks else f"{v:.1f}" for v in yticks])
ax.set_xticks([32 * k for k in range(len(time_labels))])
ax.set_xticklabels(time_labels, ha="left")
ax.tick_params(axis="y", direction="out", length=2.5, width=0.5, pad=1.6, labelsize=6.3, colors="black", right=True)
ax.tick_params(axis="x", direction="out", length=2.0, width=0.5, pad=1.5, labelsize=5.9, colors="black", bottom=True)
ax.grid(False)

# price boxes on the right scale
trans = mtransforms.blended_transform_factory(ax.transAxes, ax.transData)
for p, col in zip(level_prices, level_colors):
    ax.text(1.0021, p, f"{p:.1f}", transform=trans, ha="left", va="center", fontsize=6.3, color="white",
            bbox=dict(boxstyle="square,pad=0.32", fc=col, ec="none"), clip_on=False, zorder=8)
ax.text(1.0021, last_price, f"{last_price:.1f}", transform=trans, ha="left", va="center", fontsize=6.3,
        color="white", bbox=dict(boxstyle="square,pad=0.32", fc="black", ec="none"), clip_on=False, zorder=9)

ax.plot([470], [4088.0], marker="v", ms=4, color="#9a9a9a", clip_on=False, zorder=9)
fig.text(0.0024, 0.9902, "\u25bc", fontsize=4.2, color="black", va="center", ha="left")
fig.text(0.0083, 0.9902, title_text, fontsize=5.8, color="black", va="center", ha="left")

fig.savefig("out.png", dpi=200, facecolor="white")
